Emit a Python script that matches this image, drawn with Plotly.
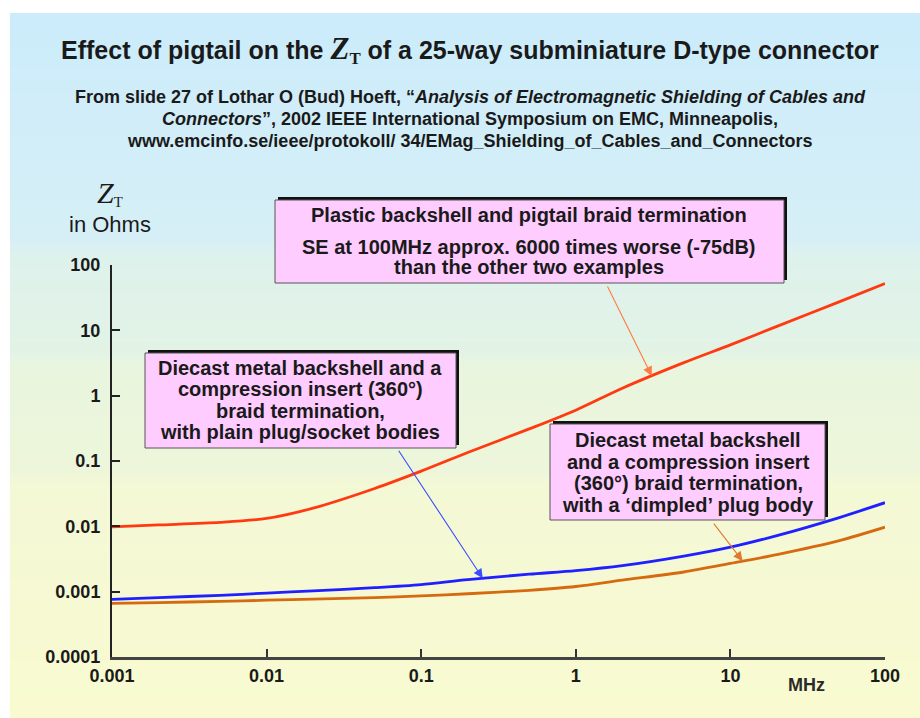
import numpy as np
import plotly.graph_objects as go

# Frequency grid (MHz) and transfer impedance Z_T (ohms) for the three terminations
freq_mhz = [0.001, 0.002, 0.005, 0.01, 0.02, 0.05, 0.1, 0.2, 0.5, 1, 2, 5, 10, 20, 50, 100]
zt_pigtail = [0.0098, 0.0105, 0.0115, 0.0132, 0.019, 0.038, 0.07, 0.135, 0.31, 0.6,
              1.3, 3.2, 6.0, 11.5, 27, 52]
zt_plain = [0.00076, 0.00081, 0.00088, 0.00095, 0.00103, 0.00115, 0.00128, 0.00153,
            0.00185, 0.0021, 0.0025, 0.0035, 0.0048, 0.0072, 0.0135, 0.023]
zt_dimpled = [0.00066, 0.00068, 0.00071, 0.00074, 0.00077, 0.00081, 0.00086, 0.00093,
              0.00105, 0.0012, 0.0015, 0.0020, 0.0027, 0.0037, 0.0060, 0.0097]

x_tickvals = [0.001, 0.01, 0.1, 1, 10, 100]
x_ticktext = ["0.001", "0.01", "0.1", "1", "10", "100"]
y_tickvals = [0.0001, 0.001, 0.01, 0.1, 1, 10, 100]
y_ticktext = ["0.0001", "0.001", "0.01", "0.1", "1", "10", "100"]

# Where each callout arrow touches its curve (MHz)
arrow_freq = {"pigtail": 3.1, "plain": 0.25, "dimpled": 12}

# Text blocks
title_html = ('Effect of pigtail on the <span style="font-family:Liberation Serif;font-size:31px">'
              '<i>Z</i></span><span style="font-family:Liberation Serif;font-size:24px"><sub>T</sub></span>'
              ' of a 25-way subminiature D-type connector')
source_lines = [
    "From slide 27 of Lothar O (Bud) Hoeft, “<i>Analysis of Electromagnetic Shielding of Cables and</i>",
    "<i>Connectors</i>”, 2002 IEEE International Symposium on EMC, Minneapolis,",
    "www.emcinfo.se/ieee/protokoll/ 34/EMag_Shielding_of_Cables_and_Connectors",
]
pigtail_lines = ["Plastic backshell and pigtail braid termination",
                 "SE at 100MHz approx. 6000 times worse (-75dB)",
                 "than the other two examples"]
plain_lines = ["Diecast metal backshell and a", "compression insert (360°)",
               "braid termination,", "with plain plug/socket bodies"]
dimpled_lines = ["Diecast metal backshell", "and a compression insert",
                 "(360°) braid termination,", "with a ‘dimpled’ plug body"]

W, H = 920, 718
L, R, T, B = 112, 885, 265, 657
SANS = "Liberation Sans, Arial, Helvetica, sans-serif"
SERIF = "Liberation Serif, Times New Roman, serif"


def px(xp):
    return (xp - L) / (R - L)


def py(yp):
    return (B - yp) / (B - T)


def on_curve(f, zs):
    lf = np.log10(freq_mhz)
    lz = np.log10(zs)
    return float(np.log10(f)), float(np.interp(np.log10(f), lf, lz))


fig = go.Figure()

colors = {"pigtail": "#ff3a10", "plain": "#1f1fff", "dimpled": "#d66a10"}
series = {"pigtail": zt_pigtail, "plain": zt_plain, "dimpled": zt_dimpled}
for key in ["dimpled", "plain", "pigtail"]:
    fig.add_trace(go.Scatter(
        x=freq_mhz, y=series[key], mode="lines",
        line=dict(color=colors[key], width=2.8, shape="spline", smoothing=0.8),
        showlegend=False, hoverinfo="skip"))

shapes = []

# Soft vertical background gradient (blue at the top, pale yellow at the bottom)
stops = [(13, (204, 236, 251)), (240, (214, 239, 246)), (256, (222, 242, 236)),
         (350, (226, 243, 230)), (365, (233, 245, 223)), (470, (237, 246, 218)),
         (485, (243, 248, 213)), (718, (249, 250, 208))]
ys = np.arange(13, 718, 4)
sy = [s[0] for s in stops]
for y0 in ys:
    y1 = min(y0 + 4, 718)
    c = [int(round(np.interp(y0 + 2, sy, [s[1][i] for s in stops]))) for i in range(3)]
    shapes.append(dict(type="rect", xref="paper", yref="paper", layer="below",
                       x0=px(10), x1=px(920), y0=py(y1), y1=py(y0),
                       fillcolor=f"rgb({c[0]},{c[1]},{c[2]})", line=dict(width=0)))


def callout_box(x0, y0, x1, y1):
    shapes.append(dict(type="rect", xref="paper", yref="paper", layer="above",
                       x0=px(x0 + 3), x1=px(x1 + 3), y0=py(y1 - 3), y1=py(y0 - 3),
                       fillcolor="#111111", line=dict(width=0)))
    shapes.append(dict(type="rect", xref="paper", yref="paper", layer="above",
                       x0=px(x0), x1=px(x1), y0=py(y1), y1=py(y0),
                       fillcolor="#ffccff", line=dict(color="#555555", width=1)))


callout_box(275, 200, 784, 283)
callout_box(145, 353, 456, 448)
callout_box(550, 424, 825, 520)

annotations = []


def text(x, y, s, size, bold=True, family=SANS, color="#1a1a1a"):
    annotations.append(dict(x=px(x), y=py(y), xref="paper", yref="paper", text=s,
                            showarrow=False, xanchor="center", yanchor="middle",
                            align="center",
                            font=dict(size=size, family=family, color=color,
                                      weight="bold" if bold else "normal")))


def lines(x, ys_, items, size):
    for yy, s in zip(ys_, items):
        text(x, yy, s, size)


# Title and source lines
text(470, 49, title_html, 25)
lines(470, [97, 119, 141], source_lines, 18)

# Y axis caption and x unit
text(110, 193, '<i>Z</i><span style="font-size:21px"><sub>T</sub></span>', 30, bold=False, family=SERIF)
text(110, 224, "in Ohms", 22, bold=False)
text(806, 685, "MHz", 18, bold=True, color="#2a2a2a")

# Callout texts
lines(529, [215, 247, 267], pigtail_lines, 20)
lines(300, [368, 389, 411, 432], plain_lines, 20)
lines(688, [440, 462, 483, 505], dimpled_lines, 20)

# Arrows from callouts to their curves
arrow_style = {"pigtail": ("#ff7a45", -45, -91), "plain": ("#3a4dff", -85, -129),
               "dimpled": ("#e07a30", -30, -39)}
for key, (col, ax, ay) in arrow_style.items():
    xa, ya = on_curve(arrow_freq[key], series[key])
    annotations.append(dict(x=xa, y=ya, xref="x", yref="y", ax=ax, ay=ay, text="",
                            showarrow=True, arrowhead=2, arrowsize=1.7, arrowwidth=1.1,
                            arrowcolor=col, standoff=0))

fig.update_layout(
    width=W, height=H,
    margin=dict(l=L, r=W - R, t=T, b=H - B, pad=0),
    paper_bgcolor="white", plot_bgcolor="rgba(0,0,0,0)",
    shapes=shapes, annotations=annotations, showlegend=False,
    xaxis=dict(type="log", range=[-3, 2], tickvals=x_tickvals, ticktext=x_ticktext,
               ticks="inside", ticklen=8, tickwidth=2, tickcolor="#333333",
               showline=True, linecolor="#444444", linewidth=3, showgrid=False,
               zeroline=False, ticklabelstandoff=0,
               tickfont=dict(size=18, family=SANS, color="#1a1a1a", weight="bold")),
    yaxis=dict(type="log", range=[-4, 2], tickvals=y_tickvals, ticktext=y_ticktext,
               ticks="inside", ticklen=8, tickwidth=2, tickcolor="#222222",
               showline=True, linecolor="#222222", linewidth=2, showgrid=False,
               zeroline=False, ticklabelstandoff=6,
               tickfont=dict(size=18, family=SANS, color="#1a1a1a", weight="bold")),
)

fig.write_html("out.html")
